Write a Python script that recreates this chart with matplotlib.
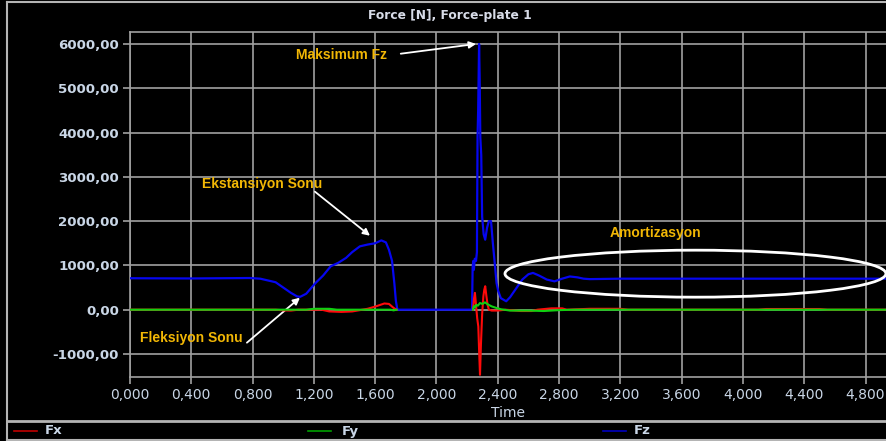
import numpy as np
import matplotlib.pyplot as plt
from matplotlib.ticker import MultipleLocator, FuncFormatter
from matplotlib.patches import Ellipse
from matplotlib.lines import Line2D

# time (s) and force (N)
t_fz = [0.0, 0.40, 0.78, 0.85, 0.95, 1.00, 1.05, 1.09, 1.11, 1.15, 1.21, 1.26, 1.31, 1.36,
        1.41, 1.45, 1.50, 1.55, 1.60, 1.64, 1.67, 1.69, 1.71, 1.725, 1.735, 1.745,
        2.232, 2.236, 2.240, 2.244, 2.250, 2.258, 2.264, 2.268, 2.272, 2.278, 2.282, 2.286,
        2.292, 2.298, 2.308, 2.318, 2.330, 2.342, 2.356, 2.368, 2.380, 2.392, 2.403, 2.420,
        2.455, 2.48, 2.52, 2.56, 2.60, 2.63, 2.67, 2.72, 2.77, 2.82, 2.87, 2.92, 2.96, 3.0,
        3.2, 4.94]
fz = [710, 705, 715, 700, 620, 500, 380, 300, 290, 360, 600, 770, 980, 1060,
      1170, 1300, 1430, 1470, 1500, 1565, 1520, 1350, 1100, 600, 200, 0,
      0, 950, 1100, 900, 1150, 1100, 1300, 3900, 4500, 6000, 5200, 3900,
      3500, 2100, 1700, 1580, 1850, 2000, 2000, 1500, 1060, 600, 420, 260,
      190, 280, 480, 680, 800, 830, 770, 680, 640, 700, 750, 730, 700, 690,
      700, 700]

t_fx = [0.0, 0.95, 1.00, 1.05, 1.10, 1.25, 1.30, 1.38, 1.45, 1.50, 1.55, 1.60, 1.66,
        1.69, 1.72, 1.74, np.nan,
        2.238, 2.245, 2.251, 2.258, 2.266, 2.273, 2.278, 2.284, 2.290, 2.298, 2.306,
        2.312, 2.318, 2.326, 2.334, 2.342, 2.36, 2.40, 2.45, 2.55, 2.62, 2.66, 2.75,
        2.82, 2.85, 3.0, 3.2, 3.25, 4.1, 4.15, 4.5, 4.55, 4.94]
fx = [0, 0, -15, -20, 0, 0, -40, -50, -40, -10, 20, 70, 140,
      130, 40, 0, np.nan,
      0, 250, 380, 100, -200, -380, -900, -1470, -800, -100, 300,
      450, 530, 300, 100, 0, -20, -20, 0, -30, -30, 0, 30,
      30, 0, 20, 20, 0, 0, 15, 15, 0, 0]

t_fy = [0.0, 1.15, 1.20, 1.30, 1.35, 1.70, 1.72, 1.74, np.nan,
        2.238, 2.245, 2.252, 2.26, 2.27, 2.284, 2.30, 2.316, 2.34, 2.36, 2.39, 2.42,
        2.48, 2.6, 2.7, 2.8, 2.9, 4.94]
fy = [0, 0, 20, 20, 0, 0, -15, 0, np.nan,
      0, 80, 50, 110, 90, 150, 130, 165, 110, 75, 40, 10,
      -20, -20, -30, -10, 0, 0]

x_ticks = np.arange(0, 4.81, 0.4)
y_ticks = np.arange(-1000, 6001, 1000)

fg = '#c9d6e6'
grid_c = '#a0a0a0'

fig = plt.figure(figsize=(8.87, 4.41), dpi=100, facecolor='black')
ax = fig.add_axes([130/887, 1-377/441, 1-130/887, (377-32)/441], facecolor='black')

ax.plot(t_fz, fz, color='#0606f0', lw=1.6, zorder=3)
ax.plot(t_fx, fx, color='#ff0a0a', lw=1.5, zorder=4)
ax.plot(t_fy, fy, color='#10d010', lw=1.5, zorder=5)

ax.set_xlim(0, 4.94)
ax.set_ylim(-1520, 6270)
ax.set_xticks(x_ticks)
ax.set_yticks(y_ticks)
ax.xaxis.set_major_formatter(FuncFormatter(lambda v, p: f"{v:.3f}".replace('.', ',')))
ax.yaxis.set_major_formatter(FuncFormatter(lambda v, p: f"{v:.2f}".replace('.', ',')))
ax.grid(True, color=grid_c, lw=1.2)
ax.set_axisbelow(True)
for s in ['left', 'top', 'bottom']:
    ax.spines[s].set_color(grid_c)
    ax.spines[s].set_linewidth(1.2)
ax.spines['right'].set_visible(False)
ax.tick_params(axis='both', colors=grid_c, length=5, width=1.2, pad=3)
for lab in ax.get_yticklabels():
    lab.set_color(fg)
    lab.set_fontfamily('DejaVu Sans')
    lab.set_fontweight('bold')
    lab.set_fontsize(9.6)
for lab in ax.get_xticklabels():
    lab.set_color(fg)
    lab.set_fontfamily('DejaVu Sans')
    lab.set_fontsize(10)
ax.set_xlabel('Time', color=fg, fontsize=10, family='DejaVu Sans', labelpad=3)

fig.text(450/887, 1-15/441, 'Force [N], Force-plate 1', color='#d8dce8',
         fontsize=8.8, fontweight='bold', family='DejaVu Sans', ha='center', va='center')

# annotations
orange = '#f2b705'
akw = dict(color=orange, fontsize=10, fontweight='bold', family='Liberation Sans',
           ha='center', va='center')
arr = dict(arrowstyle='-|>', color='white', lw=1.3, mutation_scale=10, shrinkA=0, shrinkB=0)
ax.text(1.383, 5740, 'Maksimum Fz', **akw)
ax.annotate('', xy=(2.258, 6000), xytext=(1.767, 5780), arrowprops=arr)
ax.text(0.861, 2844, 'Ekstansiyon Sonu', **akw)
ax.annotate('', xy=(1.566, 1670), xytext=(1.207, 2664), arrowprops=arr)
ax.text(0.398, -632, 'Fleksiyon Sonu', **akw)
ax.annotate('', xy=(1.109, 271), xytext=(0.763, -745), arrowprops=arr)
ax.text(3.432, 1738, 'Amortizasyon', **akw)
ax.add_patch(Ellipse((3.69, 813), 2.486, 1061, fill=False, ec='white', lw=2, zorder=6))

# outer frame and legend strip
frame = '#b4b4b4'
fig.add_artist(Line2D([7/887, 1], [1-1.5/441, 1-1.5/441], color=frame, lw=1.5))
fig.add_artist(Line2D([7/887, 7/887], [1-1.5/441, 1-440/441], color=frame, lw=1.5))
fig.add_artist(Line2D([7/887, 1], [1-421/441, 1-421/441], color=frame, lw=2))
fig.add_artist(Line2D([7/887, 1], [1-440/441, 1-440/441], color=frame, lw=1.5))

leg = [('Fx', '#c00000', 14, 45), ('Fy', '#00a000', 308, 342), ('Fz', '#0000c0', 603, 634)]
for name, c, x0, xt in leg:
    fig.add_artist(Line2D([x0/887, (x0+23)/887], [1-431/441, 1-431/441], color=c, lw=1.2))
    fig.text(xt/887, 1-431/441, name, color=fg, fontsize=9.5, fontweight='bold',
             family='DejaVu Sans', ha='left', va='center')

fig.savefig('out.png', dpi=100, facecolor='black')
